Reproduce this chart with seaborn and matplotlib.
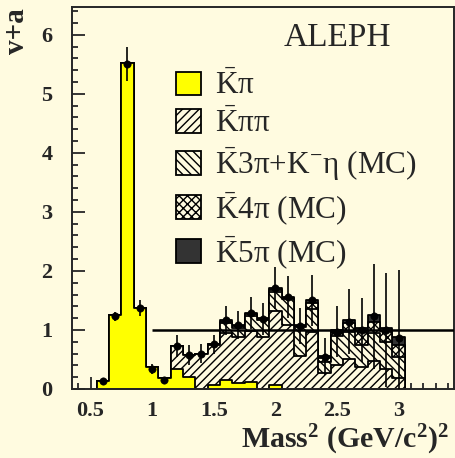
import numpy as np
import pandas as pd
import seaborn as sns
import matplotlib.pyplot as plt
from matplotlib.patches import Patch
from matplotlib.ticker import FixedLocator, MultipleLocator

# bin centres (Mass^2, GeV^2), bin width 0.1
centers = [0.6, 0.7, 0.8, 0.9, 1.0, 1.1, 1.2, 1.3, 1.4, 1.5, 1.6, 1.7, 1.8,
           1.9, 2.0, 2.1, 2.2, 2.3, 2.4, 2.5, 2.6, 2.7, 2.8, 2.9, 3.0]
# contributions of each channel (stacked)
kpi   = [0.13, 1.25, 5.52, 1.38, 0.38, 0.19, 0.34, 0.21, 0.00, 0.07, 0.15, 0.10, 0.12,
         0.00, 0.06, 0.00, 0.00, 0.00, 0.00, 0.00, 0.00, 0.00, 0.00, 0.00, 0.00]
kpipi = [0.00, 0.00, 0.00, 0.00, 0.00, 0.00, 0.38, 0.36, 0.60, 0.67, 0.80, 0.78, 0.86,
         0.88, 1.26, 1.08, 0.56, 0.97, 0.27, 0.40, 0.50, 0.38, 0.48, 0.33, 0.18]
k3pi  = [0.00, 0.00, 0.00, 0.00, 0.00, 0.00, 0.00, 0.00, 0.00, 0.02, 0.17, 0.16, 0.26,
         0.28, 0.32, 0.44, 0.49, 0.38, 0.18, 0.50, 0.47, 0.37, 0.47, 0.47, 0.37]
k4pi  = [0.00, 0.00, 0.00, 0.00, 0.00, 0.00, 0.00, 0.00, 0.00, 0.00, 0.02, 0.02, 0.03,
         0.03, 0.04, 0.02, 0.02, 0.10, 0.08, 0.07, 0.15, 0.23, 0.19, 0.18, 0.20]
k5pi  = [0.00, 0.00, 0.00, 0.00, 0.00, 0.00, 0.00, 0.00, 0.00, 0.00, 0.02, 0.02, 0.02,
         0.01, 0.03, 0.02, 0.01, 0.05, 0.03, 0.03, 0.05, 0.05, 0.11, 0.05, 0.13]
# measured v+a spectral function
vpa     = [0.13, 1.23, 5.50, 1.37, 0.34, 0.15, 0.73, 0.58, 0.60, 0.76, 1.16, 1.08, 1.29,
           1.19, 1.71, 1.56, 1.07, 1.50, 0.55, 0.97, 1.14, 1.00, 1.23, 1.00, 0.86]
vpa_err = [0.06, 0.08, 0.29, 0.13, 0.08, 0.06, 0.18, 0.17, 0.16, 0.16, 0.25, 0.24, 0.27,
           0.27, 0.35, 0.35, 0.31, 0.43, 0.31, 0.43, 0.55, 0.54, 0.89, 0.97, 1.16]

labels = [r'$\bar{\mathrm{K}}$π', r'$\bar{\mathrm{K}}$ππ', r'$\bar{\mathrm{K}}$3π+K$^{-}$η (MC)',
          r'$\bar{\mathrm{K}}$4π (MC)', r'$\bar{\mathrm{K}}$5π (MC)']
xtick_vals = [0.5, 1, 1.5, 2, 2.5, 3]
xtick_labels = ['0.5', '1', '1.5', '2', '2.5', '3']
ytick_vals = [0, 1, 2, 3, 4, 5, 6]

bg = '#fffbe0'
sns.set_style('ticks')
plt.rcParams['font.family'] = ['Liberation Serif', 'DejaVu Serif']
plt.rcParams['mathtext.fontset'] = 'custom'
plt.rcParams['mathtext.rm'] = 'Liberation Serif'
plt.rcParams['mathtext.it'] = 'Liberation Serif:italic'
plt.rcParams['mathtext.bf'] = 'Liberation Serif:bold'
plt.rcParams['hatch.linewidth'] = 1.0

edges = [round(c - 0.05, 3) for c in centers] + [round(centers[-1] + 0.05, 3)]
comps = np.array([kpi, kpipi, k3pi, k4pi, k5pi])
cum = np.cumsum(comps, axis=0)

styles = [dict(facecolor='#ffff00', hatch=None),
          dict(facecolor=bg, hatch='////'),
          dict(facecolor=bg, hatch='\\\\\\\\'),
          dict(facecolor=bg, hatch='xxxx'),
          dict(facecolor='#333333', hatch=None)]

fig = plt.figure(figsize=(4.56, 4.58), dpi=100, facecolor=bg)
ax = fig.add_axes([0.158, 0.1507, 0.8376, 0.834])
ax.set_facecolor(bg)

# overlay cumulative histograms, top layer first
for i in range(4, -1, -1):
    df = pd.DataFrame({'mass': centers, 'w': cum[i]})
    sns.histplot(data=df, x='mass', weights='w', bins=edges, element='step', fill=True,
                 edgecolor='k', linewidth=1.3, ax=ax, **styles[i])

ax.hlines(1, 1.0, 3.45, color='k', lw=1.8, zorder=4)
ax.errorbar(centers, vpa, yerr=vpa_err, fmt='none', ecolor='k', elinewidth=1.2, zorder=5)
sns.scatterplot(x=centers, y=vpa, color='k', s=28, edgecolor='k', zorder=6, ax=ax)

ax.set_xlim(0.35, 3.45)
ax.set_ylim(0, 6.47)
ax.xaxis.set_major_locator(FixedLocator(xtick_vals))
ax.set_xticklabels(xtick_labels)
ax.xaxis.set_minor_locator(MultipleLocator(0.1))
ax.yaxis.set_major_locator(FixedLocator(ytick_vals))
ax.yaxis.set_minor_locator(MultipleLocator(0.2))
ax.tick_params(which='both', direction='in', width=1.3, labelsize=16)
ax.tick_params(which='major', length=9)
ax.tick_params(which='minor', length=4)
ax.tick_params(axis='x', pad=9)
ax.tick_params(axis='y', pad=14)
for t in ax.get_xticklabels() + ax.get_yticklabels():
    t.set_fontweight('bold')
for s in ax.spines.values():
    s.set_linewidth(1.4)
ax.set_xlabel('')
ax.set_ylabel('')

fig.text(0.985, 0.022, r'Mass$^{\mathbf{2}}$ (GeV/c$^{\mathbf{2}}$)$^{\mathbf{2}}$',
         ha='right', va='baseline', fontsize=21.5, fontweight='bold')
fig.text(0.037, 0.982, 'v+a', rotation=90, ha='center', va='top', fontsize=21, fontweight='bold')

ax.text(0.694, 0.919, 'ALEPH', transform=ax.transAxes, ha='center', va='center', fontsize=24)
handles = [Patch(edgecolor='k', linewidth=1.3, **st) for st in styles]
ax.legend(handles, labels, loc='upper left', bbox_to_anchor=(0.272, 0.832), frameon=False,
          fontsize=22.5, handlelength=0.8, handleheight=0.8, handletextpad=0.45,
          labelspacing=0.23, borderpad=0, borderaxespad=0)

fig.savefig('out.png', dpi=100, facecolor=bg)
